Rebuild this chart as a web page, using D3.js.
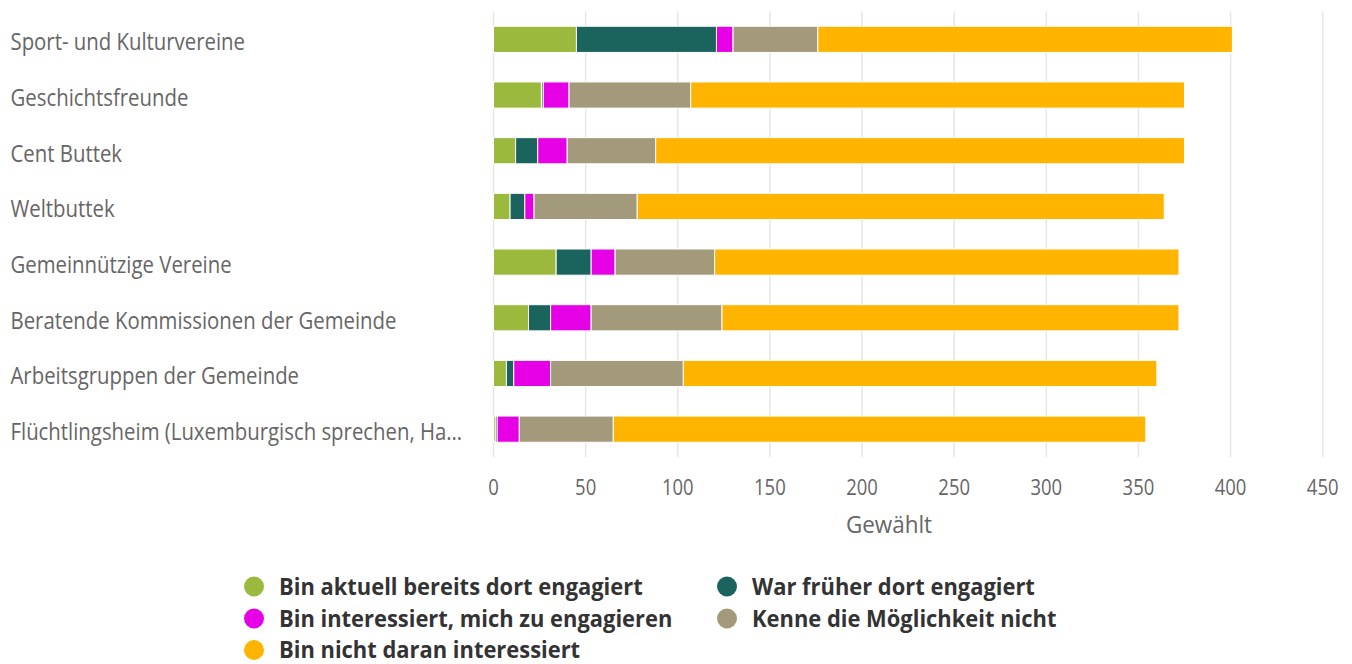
<!DOCTYPE html>
<html><head><meta charset="utf-8">
<script src="https://cdn.jsdelivr.net/npm/d3@7"></script>
<style>
html,body{margin:0;padding:0;background:#fff;}
svg{display:block;font-family:"Open Sans",sans-serif;}
</style></head>
<body>
<svg id="chart" width="1352" height="664"></svg>
<script>
const categories = [
  "Sport- und Kulturvereine",
  "Geschichtsfreunde",
  "Cent Buttek",
  "Weltbuttek",
  "Gemeinnützige Vereine",
  "Beratende Kommissionen der Gemeinde",
  "Arbeitsgruppen der Gemeinde",
  "Flüchtlingsheim (Luxemburgisch sprechen, Ha…"
];
const seriesNames = [
  "Bin aktuell bereits dort engagiert",
  "War früher dort engagiert",
  "Bin interessiert, mich zu engagieren",
  "Kenne die Möglichkeit nicht",
  "Bin nicht daran interessiert"
];
const seriesColors = ["#9bb93c", "#1b645e", "#e600e6", "#a39a7c", "#ffb400"];
const aktuell     = [45, 26, 12,  9, 34, 19,  7,  1];
const frueher     = [76,  1, 12,  8, 19, 12,  4,  1];
const interessiert= [ 9, 14, 16,  5, 13, 22, 20, 12];
const kenneNicht  = [46, 66, 48, 56, 54, 71, 72, 51];
const nichtInter  = [225,268,287,286,252,248,257,289];
const xTicks = [0, 50, 100, 150, 200, 250, 300, 350, 400, 450];
const xTitle = "Gewählt";

const seriesValues = [aktuell, frueher, interessiert, kenneNicht, nichtInter];

const svg = d3.select("#chart");
const plot = {left: 493.5, right: 1322.7, top: 11.5, bottom: 457};

const x = d3.scaleLinear().domain([0, 450]).range([plot.left, plot.right]);
const y = d3.scaleBand().domain(categories).range([plot.top, plot.bottom])
  .paddingInner(0.53).paddingOuter(0.265);

// gridlines
svg.append("g").selectAll("line").data(xTicks).join("line")
  .attr("x1", d => x(d)).attr("x2", d => x(d))
  .attr("y1", plot.top).attr("y2", plot.bottom)
  .attr("stroke", "#e6e6e6").attr("stroke-width", 1.5);

// stacked data
const rows = categories.map((c, i) => {
  const o = {cat: c};
  seriesNames.forEach((s, j) => o[s] = seriesValues[j][i]);
  return o;
});
const stack = d3.stack().keys(seriesNames)(rows);

svg.append("g").selectAll("g").data(stack).join("g")
  .attr("fill", (d, i) => seriesColors[i])
  .selectAll("rect").data(d => d).join("rect")
  .attr("x", d => x(d[0]))
  .attr("width", d => Math.max(0, x(d[1]) - x(d[0])))
  .attr("y", d => y(d.data.cat))
  .attr("height", y.bandwidth())
  .attr("stroke", "#fff").attr("stroke-width", 1);

// category labels
svg.append("g").selectAll("text").data(categories).join("text")
  .attr("transform", d => `translate(10.5,${y(d) + y.bandwidth()/2 + 11}) scale(0.87,1)`)
  .attr("font-size", 23.4).attr("fill", "#666").text(d => d);

// x tick labels
svg.append("g").selectAll("text").data(xTicks).join("text")
  .attr("transform", d => `translate(${x(d)},495) scale(0.84,1)`)
  .attr("text-anchor", "middle").attr("font-size", 22).attr("fill", "#666").text(d => d);

svg.append("text")
  .attr("transform", `translate(889,533) scale(0.96,1)`)
  .attr("text-anchor", "middle").attr("font-size", 23.4).attr("fill", "#666").text(xTitle);

// legend
const legendPos = [[254,586.5],[727,586.5],[254,618.5],[727,618.5],[254,650]];
const lg = svg.append("g").selectAll("g").data(seriesNames).join("g")
  .attr("transform", (d, i) => `translate(${legendPos[i][0]},${legendPos[i][1]})`);
lg.append("circle").attr("r", 10).attr("fill", (d, i) => seriesColors[i]);
lg.append("text").attr("transform", `translate(25,8) scale(0.97,1)`)
  .attr("font-size", 22.6).attr("font-weight", "bold").attr("fill", "#333").text(d => d);
</script>
</body></html>
